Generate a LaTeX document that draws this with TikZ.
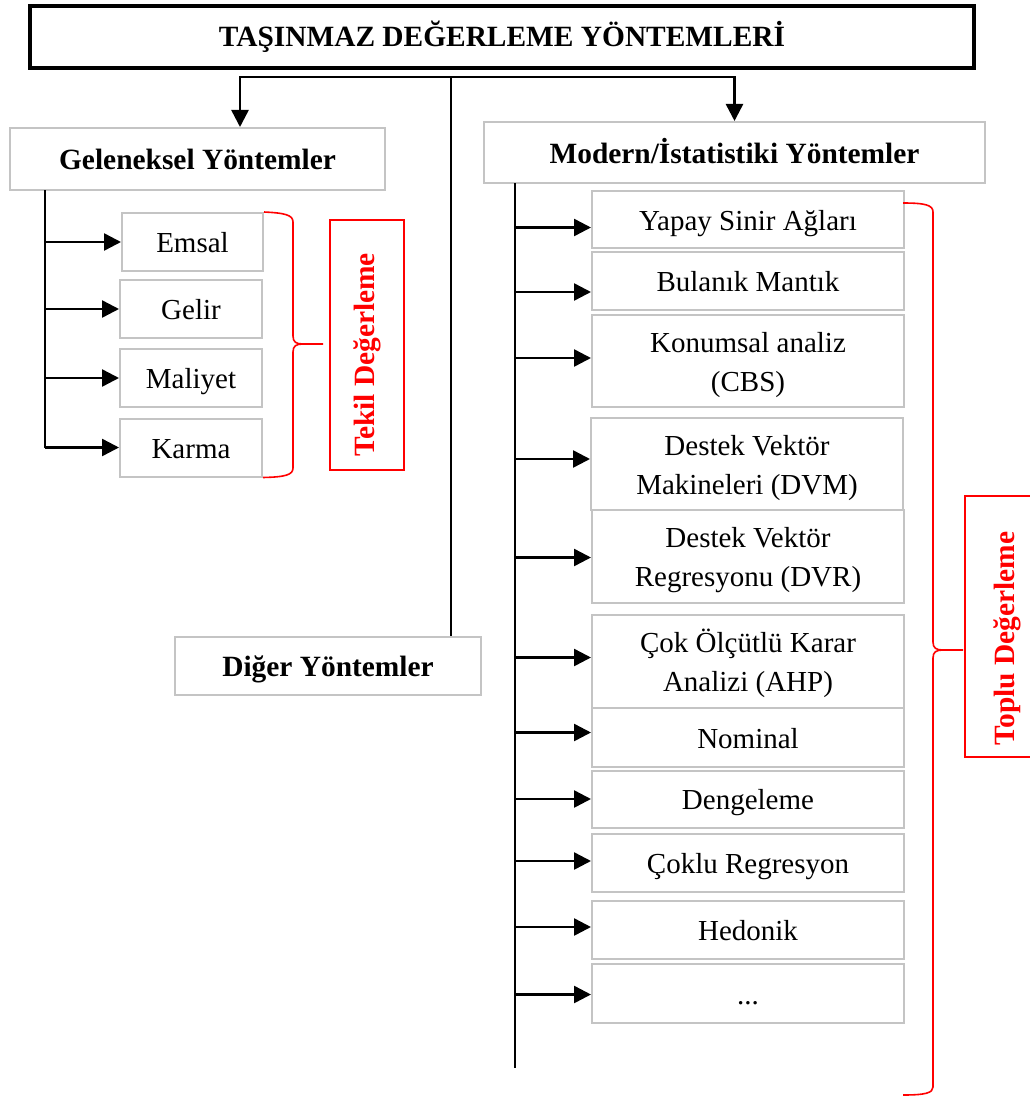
\documentclass[tikz,border=0pt]{standalone}
\usepackage{fontspec}
\setmainfont{Liberation Serif}
\usetikzlibrary{arrows.meta, positioning}
\definecolor{boxgray}{RGB}{196,196,196}
\newcommand{\boxstrut}{\rule{0pt}{28pt}}

\begin{document}
\begin{tikzpicture}[x=1pt, y=-1pt,
    font=\fontsize{29}{39}\selectfont,
    head/.style={font=\fontsize{29.4}{39}\selectfont\bfseries},
    box/.style={draw=boxgray, line width=2pt, align=center, inner sep=0pt},
    one/.style={box, text height=28pt, text depth=6.3pt},
    redbox/.style={draw=red, line width=2.5pt, text=red, head, rotate=90, inner sep=0pt},
    conn/.style={line width=2.5pt},
    arr/.style={conn, -{Triangle[length=17pt, width=17pt]}},
    brc/.style={red, line width=1.6pt}]

    \useasboundingbox (0,0) rectangle (1030,1097);

    % Title box
    \node[draw, line width=3.5pt, minimum width=944pt, minimum height=62pt, head] (title) at (502,37) {TAŞINMAZ DEĞERLEME YÖNTEMLERİ};

    % Three groups of methods
    \node[one, head, minimum width=375pt, minimum height=62pt] (gel) at (197.5,159) {Geleneksel Yöntemler};
    \node[one, head, minimum width=501pt, minimum height=61pt] (mod) at (734.5,152.5) {Modern/İstatistiki Yöntemler};
    \node[one, head, minimum width=306pt, minimum height=58pt] (dig) at (328,666) {Diğer Yöntemler};

    % Traditional methods
    \node[one, minimum width=141pt, minimum height=58pt] (emsal) at (192.5,242) {Emsal};
    \node[one, minimum width=142pt, minimum height=58pt] (gelir) at (191,309) {Gelir};
    \node[one, minimum width=142pt, minimum height=58pt] (maliyet) at (191,378) {Maliyet};
    \node[one, minimum width=142pt, minimum height=58pt] (karma) at (191,447.5) {Karma};

    % Modern / statistical methods
    \node[one, minimum width=312pt, minimum height=57pt] (yapay) at (748,219.5) {Yapay Sinir Ağları};
    \node[one, minimum width=312pt, minimum height=58pt] (bulanik) at (748,281) {Bulanık Mantık};
    \node[box, minimum width=312pt, minimum height=92pt] (konum) at (748,361) {\boxstrut Konumsal analiz\\(CBS)};
    \node[box, minimum width=312pt, minimum height=92pt] (dvm) at (747,464) {\boxstrut Destek Vektör\\Makineleri (DVM)};
    \node[box, minimum width=312pt, minimum height=93pt] (dvr) at (748,556.5) {\boxstrut Destek Vektör\\Regresyonu (DVR)};
    \node[box, minimum width=312pt, minimum height=93pt] (ahp) at (748,661.5) {\boxstrut Çok Ölçütlü Karar\\Analizi (AHP)};
    \node[one, minimum width=312pt, minimum height=59pt] (nominal) at (748,737.5) {Nominal};
    \node[one, minimum width=312pt, minimum height=57pt] (dengeleme) at (748,799) {Dengeleme};
    \node[one, minimum width=312pt, minimum height=58pt] (coklu) at (748,863) {Çoklu Regresyon};
    \node[one, minimum width=312pt, minimum height=58pt] (hedonik) at (748,930) {Hedonik};
    \node[one, minimum width=312pt, minimum height=59pt] (dots) at (748,993.5) {...};

    % Red labels
    \node[redbox, minimum width=250pt, minimum height=74pt] (tekil) at (367,345) {Tekil Değerleme\hspace*{20pt}};
    \node[redbox, minimum width=261pt, minimum height=84pt] (toplu) at (1007,626.5) {Toplu Değerleme\hspace*{24pt}};

    % Connectors from the title row
    \coordinate (split) at (451,77);
    \draw[arr] (split) -| ([xshift=42.5pt]gel.north);
    \draw[arr] (split) -| (mod.north);
    \draw[conn] (split) -- (split |- dig.north);

    % Left trunk
    \coordinate (lt) at (45,190);
    \draw[conn] (lt) -- (lt |- karma.west);
    \foreach \n in {emsal,gelir,maliyet,karma}
        \draw[arr] (lt |- \n.west) -- (\n.west);

    % Right trunk
    \coordinate (rt) at (515,183);
    \coordinate (rend) at (515,1068);
    \draw[conn] (rt) -- (rend);
    \foreach \n/\d in {yapay/-8pt, bulanik/-11pt, konum/3pt, dvm/5pt, dvr/-1pt, ahp/4pt, nominal/5pt, dengeleme/0pt, coklu/2pt, hedonik/3pt, dots/-1pt}{
        \path ([yshift=\d]\n.west) coordinate (tip);
        \draw[arr] (rt |- tip) -- (tip);
    }

    % Braces
    \coordinate (ltip) at (323,344);
    \coordinate (rtip) at (963,650);
    \draw[brc] (emsal.north east) .. controls (285,213) and (293,215) .. (293,222) -- (293,336)
        .. controls (293,342) and (296,344) .. (303,344) -- (ltip);
    \draw[brc] (303,344) .. controls (296,344) and (293,346) .. (293,352) -- (293,468)
        .. controls (293,475) and (285,477) .. (karma.south east);
    \draw[brc] (903,203) .. controls (925,203) and (933,205) .. (933,212) -- (933,642)
        .. controls (933,648) and (936,650) .. (943,650) -- (rtip);
    \draw[brc] (943,650) .. controls (936,650) and (933,652) .. (933,658) -- (933,1087)
        .. controls (933,1093) and (925,1095) .. (903,1095);

\end{tikzpicture}
\end{document}
